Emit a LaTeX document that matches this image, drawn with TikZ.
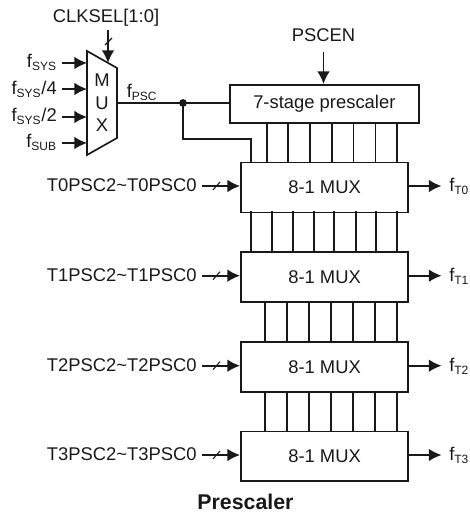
\documentclass[tikz,border=0pt]{standalone}
\usepackage{fontspec}
\setmainfont{Liberation Sans}
\usetikzlibrary{arrows.meta}
\tikzset{
 every picture/.style={x=0.75pt,y=-0.75pt},
 wire/.style={line width=1.25pt,black!90},
 arr/.style={wire,-{Latex[length=9.5pt,width=9.5pt]}},
 block/.style={draw=black!90,line width=1.25pt,fill=white,minimum width=125.6pt,minimum height=37.4pt,inner sep=0pt,font=\fontsize{13.8}{16}\selectfont,anchor=north west,text=black!90},
 lbl/.style={inner sep=0pt,font=\fontsize{13.8}{16}\selectfont,text=black!90},
 slashmark/.style={line width=0.8pt,black!90}
}
\newcommand{\fsub}[2]{f\textsubscript{\fontsize{9}{9}\selectfont #1}#2}
\begin{document}
\begin{tikzpicture}
\useasboundingbox (0,0) rectangle (469,516);
% small mux
\draw[wire,fill=white] (87,51) coordinate (ma) -- (117,68) -- (117,138) -- (87,155) -- cycle;
\node[lbl,align=center,font=\fontsize{13.8}{17}\selectfont] (muxt) at (102,103) {M\\U\\X};
\coordinate (m1) at (87,63); \coordinate (m2) at (87,89); \coordinate (m3) at (87,117); \coordinate (m4) at (87,143);
\coordinate (mo) at (117,103); \coordinate (mt) at (108,63);
\node[lbl,anchor=base east] (l1) at (57,68) {\fsub{SYS}{}};
\node[lbl,anchor=base east] (l2) at (57,95) {\fsub{SYS}{/4}};
\node[lbl,anchor=base east] (l3) at (57,122) {\fsub{SYS}{/2}};
\node[lbl,anchor=base east] (l4) at (57,148) {\fsub{SUB}{}};
\foreach \i in {1,2,3,4} \draw[arr] (61.5,0 |- m\i) -- (m\i);
\node[lbl,anchor=base] (clk) at (106,23) {CLKSEL[1:0]};
\coordinate (clks) at (108,30.5);
\draw[arr] (clks) -- (mt);
\draw[slashmark] (105,45) -- (112,38);
\node[lbl,anchor=base west] (fpsc) at (126.5,98) {\fsub{PSC}{}};
% prescaler
\node[block,minimum width=141.75pt,minimum height=28.5pt] (pre) at (229,84) {7-stage prescaler};
\node[lbl,anchor=base] (pscen) at (323.5,42) {PSCEN};
\coordinate (pe) at (323.5,52.5);
\draw[arr] (pe) -- (pre.north -| pe);
\draw[wire] (mo) -- (pre.west |- mo);
\coordinate (dot) at (183,103);
\fill[black!90] (dot) circle (3.9);
% 8-1 mux
\node[block] (m0) at (240,161.7) {8-1 MUX};
\node[block] (m1b) at (240,251) {8-1 MUX};
\node[block] (m2b) at (240,341) {8-1 MUX};
\node[block] (m3b) at (240,430.5) {8-1 MUX};
\draw[wire] (dot) |- (251.3,138.7) -- (251.3,161.7);
\foreach \x in {266.7,288.3,310,331.7,353.4,375.4,397} \draw[wire] (\x,122) -- (\x,161.7);
\foreach \x in {251.3,271.7,292.7,313.7,334.3,355.7,376,397} \draw[wire] (\x,211) -- (\x,251);
\foreach \x in {265.3,287.3,309.3,331.3,353.3,375.3,397} {
 \draw[wire] (\x,300.5) -- (\x,341);
 \draw[wire] (\x,390.5) -- (\x,430.5);
}
\foreach \n/\t/\y in {m0/0/186,m1b/1/275.7,m2b/2/365.7,m3b/3/455} {
 \node[lbl,anchor=base east] (t\t) at (197,\y+5.5) {T\t PSC2\textasciitilde T\t PSC0};
 \coordinate (c\t) at (\n.west |- 0,\y);
 \draw[arr] (201.5,\y) -- (c\t);
 \draw[slashmark] (213,\y+4) -- (220,\y-4);
 \draw[arr] (\n.east |- 0,\y) -- (441.5,\y) coordinate (e\t);
 \node[lbl,anchor=base west] (o\t) at (449,\y+5.5) {\fsub{T\t}{}};
}
\node[lbl,anchor=base,font=\bfseries\fontsize{16}{18}\selectfont] (cap) at (245.5,509) {Prescaler};
\end{tikzpicture}
\end{document}
